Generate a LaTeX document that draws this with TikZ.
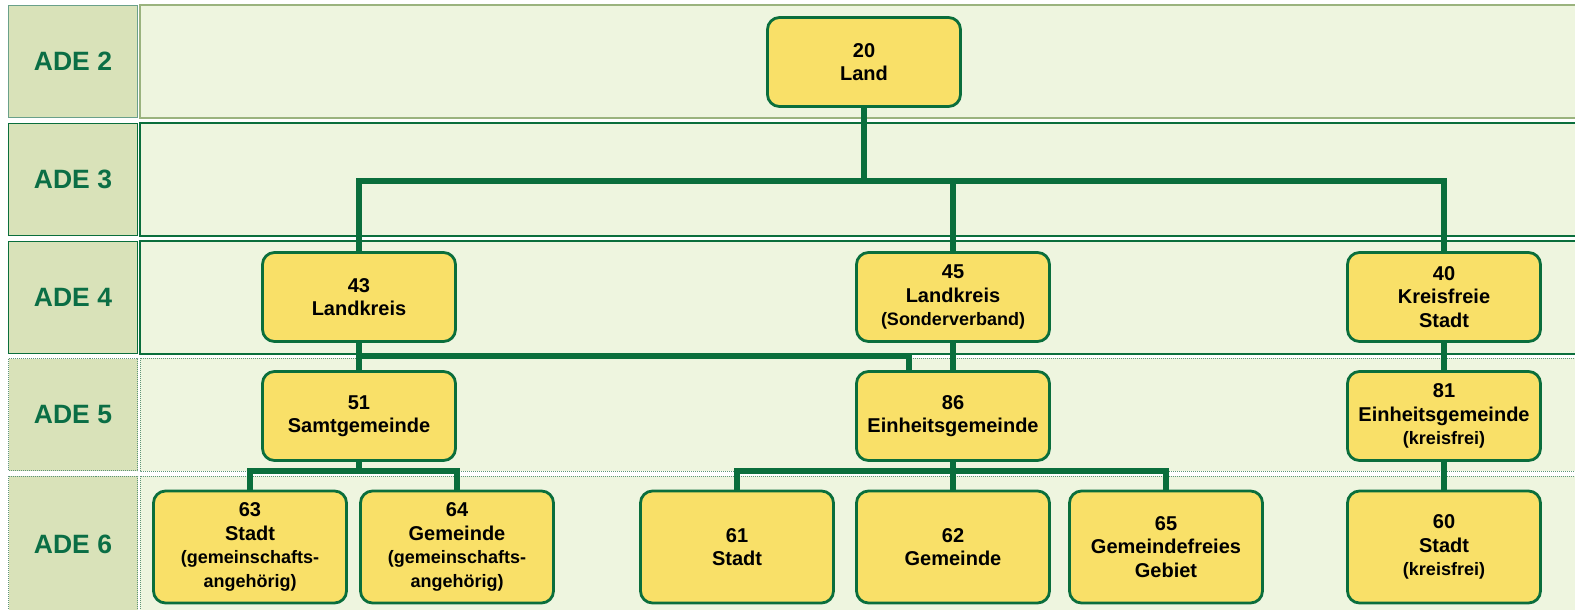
\documentclass[tikz,border=0pt]{standalone}
\usepackage{fontspec}
\setmainfont{Liberation Sans}
\definecolor{adegreen}{HTML}{0B6E45}
\definecolor{linegreen}{HTML}{0A6E3C}
\definecolor{labelfill}{HTML}{D9E2B9}
\definecolor{panelfill}{HTML}{EEF5DF}
\definecolor{boxyellow}{HTML}{F9E068}
\definecolor{dotgreen}{HTML}{5E9478}
\definecolor{topolive}{HTML}{9AB37E}
\definecolor{topteal}{HTML}{6AA08A}
\newcommand\klein[1]{{\fontsize{18}{22}\selectfont #1}}

\begin{document}
\begin{tikzpicture}[x=1pt, y=-1pt,
    box/.style = {draw=linegreen, line width=2.8pt, fill=boxyellow,
        rounded corners=12pt, minimum width=193pt, minimum height=89pt,
        inner sep=2pt, align=center, font=\fontsize{20}{23.5}\selectfont\bfseries},
    tall/.style = {minimum height=112pt},
    lbl/.style = {draw=linegreen, line width=1.2pt, fill=labelfill,
        minimum width=129pt, minimum height=112pt, text=adegreen,
        font=\fontsize{26.5}{30}\selectfont\bfseries},
    panel/.style = {draw=linegreen, line width=1.2pt, fill=panelfill},
    dotrow/.style = {draw=dotgreen, line width=1pt, densely dotted},
    link/.style = {draw=linegreen, line width=5.8pt}]
      \useasboundingbox (0,0) rectangle (1575,610);
      \fill[white] (0,0) rectangle (1575,610);
      \clip (0,0) rectangle (1575,610);
      % rows
      \node (ade2) [lbl, draw=topteal] at (73,61.5) {ADE 2};
      \node (ade3) [lbl] at (73,179.5) {ADE 3};
      \node (ade4) [lbl] at (73,297.5) {ADE 4};
      \node (ade5) [lbl, dotrow] at (73,414.5) {ADE 5};
      \node (ade6) [lbl, dotrow, minimum height=136pt] at (73,544) {ADE 6};
      \draw[panel, draw=topolive] (140,5) rectangle (1590,118);
      \draw[panel] (140,123) rectangle (1590,236);
      \draw[panel] (140,241) rectangle (1590,354);
      \draw[panel, dotrow] (140,358) rectangle (1590,471);
      \draw[panel, dotrow] (140,476) rectangle (1590,640);
      % boxes
      \node (land) [box] at (864,62) {20\\Land};
      \node (lk43) [box] at (359,297) {43\\Landkreis};
      \node (lk45) [box] at (953,297) {45\\Landkreis\\\klein{(Sonderverband)}};
      \node (kf40) [box] at (1444,297) {40\\Kreisfreie\\Stadt};
      \node (sg51) [box] at (359,416) {51\\Samtgemeinde};
      \node (eg86) [box] at (953,416) {86\\Einheitsgemeinde};
      \node (eg81) [box] at (1444,416) {81\\Einheitsgemeinde\\\klein{(kreisfrei)}};
      \node (st63) [box, tall] at (250,547) {63\\Stadt\\\klein{(gemeinschafts-}\\\klein{angehörig)}};
      \node (gm64) [box, tall] at (457,547) {64\\Gemeinde\\\klein{(gemeinschafts-}\\\klein{angehörig)}};
      \node (st61) [box, tall] at (737,547) {61\\Stadt};
      \node (gm62) [box, tall] at (953,547) {62\\Gemeinde};
      \node (gf65) [box, tall] at (1166,547) {65\\Gemeindefreies\\Gebiet};
      \node (st60) [box, tall] at (1444,547) {60\\Stadt\\\klein{(kreisfrei)}};
      % connectors
      \coordinate (bus3) at (0,181);
      \coordinate (elbow) at (909,356);
      \coordinate (bus6) at (0,471);
      \draw[link] (land) -- (land |- bus3);
      \draw[link] (lk43) |- (bus3 -| kf40) -- (kf40);
      \draw[link] (lk45) -- (lk45 |- bus3);
      \draw[link] (lk43) -- (sg51);
      \draw[link] (lk43) |- (elbow) -- (elbow |- eg86.north);
      \draw[link] (lk45) -- (eg86);
      \draw[link] (kf40) -- (eg81);
      \draw[link] (sg51) -- (sg51 |- bus6);
      \draw[link] (st63) |- (bus6 -| gm64) -- (gm64);
      \draw[link] (eg86) -- (gm62);
      \draw[link] (st61) |- (bus6 -| gf65) -- (gf65);
      \draw[link] (eg81) -- (st60);
    \end{tikzpicture}
\end{document}
